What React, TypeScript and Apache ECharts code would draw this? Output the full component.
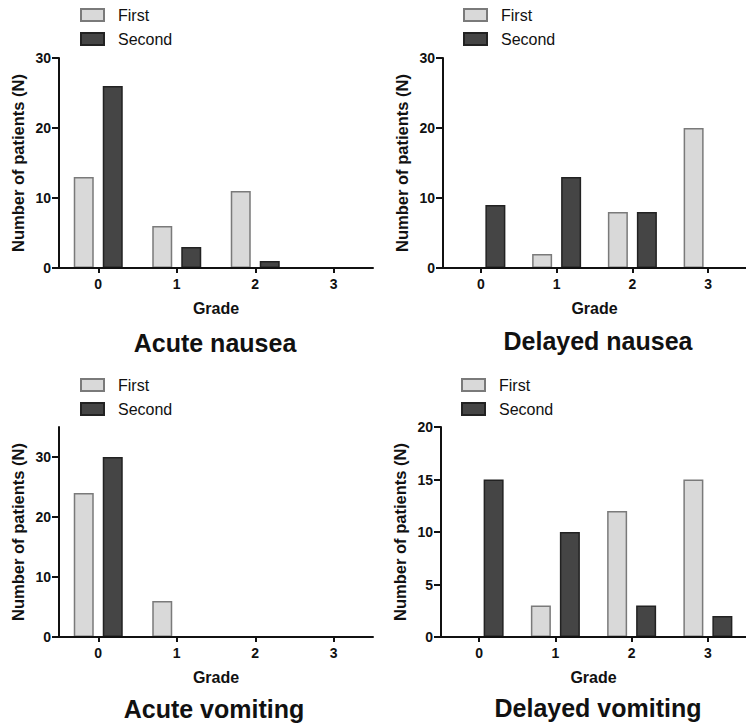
import React, { useEffect, useRef } from "react";
import * as echarts from "echarts";

const grades = ["0", "1", "2", "3"];
const seriesNames = ["First", "Second"];
const panelTitles = ["Acute nausea", "Delayed nausea", "Acute vomiting", "Delayed vomiting"];

const acuteNauseaFirst = [13, 6, 11, 0];
const acuteNauseaSecond = [26, 3, 1, 0];
const delayedNauseaFirst = [0, 2, 8, 20];
const delayedNauseaSecond = [9, 13, 8, 0];
const acuteVomitingFirst = [24, 6, 0, 0];
const acuteVomitingSecond = [30, 0, 0, 0];
const delayedVomitingFirst = [0, 3, 12, 15];
const delayedVomitingSecond = [15, 10, 3, 2];

const yMax = [30, 30, 35, 20];
const yInterval = [10, 10, 10, 5];
const yTicks = [
  [0, 10, 20, 30],
  [0, 10, 20, 30],
  [0, 10, 20, 30],
  [0, 5, 10, 15, 20],
];

const FONT = "Arial, Liberation Sans, sans-serif";
const INK = "#111";

export default function App() {
  const ref = useRef<HTMLDivElement>(null);
  useEffect(() => {
    if (!ref.current) return;
    const chart = echarts.init(ref.current, null, { renderer: "svg" });

    const grids = [
      { left: 59, top: 58, width: 314, height: 210 },
      { left: 443, top: 58, width: 314, height: 210 },
      { left: 59, top: 427, width: 314, height: 210 },
      { left: 441, top: 427, width: 314, height: 210 },
    ];
    const legendPos = [
      { left: 80, top: 7 },
      { left: 463, top: 7 },
      { left: 80, top: 377 },
      { left: 461, top: 377 },
    ];
    const titlePos = [
      { x: 215, y: 343 },
      { x: 598, y: 341 },
      { x: 214, y: 709 },
      { x: 598, y: 708 },
    ];
    const data = [
      [acuteNauseaFirst, acuteNauseaSecond],
      [delayedNauseaFirst, delayedNauseaSecond],
      [acuteVomitingFirst, acuteVomitingSecond],
      [delayedVomitingFirst, delayedVomitingSecond],
    ];
    const styles = [
      { color: "#d9d9d9", borderColor: "#7a7a7a", borderWidth: 1.5 },
      { color: "#454545", borderColor: "#222222", borderWidth: 1.5 },
    ];

    const axisLine = { show: true, lineStyle: { color: INK, width: 2 } };

    const option: any = {
      animation: false,
      backgroundColor: "#ffffff",
      textStyle: { fontFamily: FONT },
      grid: grids.map((g) => ({ ...g, containLabel: false })),
      legend: legendPos.map((p) => ({
        ...p,
        orient: "vertical",
        padding: 0,
        itemWidth: 23,
        itemHeight: 12,
        itemGap: 8,
        selectedMode: false,
        icon: "rect",
        data: seriesNames,
        textStyle: {
          fontSize: 16,
          color: INK,
          fontFamily: FONT,
          padding: [0, 0, 0, 9],
        },
      })),
      xAxis: grids.map((_, i) => ({
        type: "category",
        gridIndex: i,
        data: grades,
        z: 5,
        boundaryGap: true,
        name: "Grade",
        nameLocation: "middle",
        nameGap: 32,
        nameTextStyle: { fontSize: 16, fontWeight: "bold", color: INK, fontFamily: FONT },
        axisLine,
        axisTick: { show: true, alignWithLabel: true, length: 5, lineStyle: { color: INK, width: 2 } },
        axisLabel: { fontSize: 14, fontWeight: "bold", color: INK, margin: 9, fontFamily: FONT },
        splitLine: { show: false },
      })),
      yAxis: grids.map((_, i) => ({
        type: "value",
        gridIndex: i,
        min: 0,
        max: yMax[i],
        interval: yInterval[i],
        z: 5,
        name: "Number of patients (N)",
        nameLocation: "middle",
        nameGap: 33,
        nameTextStyle: { fontSize: 16.5, fontWeight: "bold", color: INK, fontFamily: FONT },
        axisLine,
        axisTick: { show: true, length: 7, customValues: yTicks[i], lineStyle: { color: INK, width: 2 } },
        axisLabel: { fontSize: 14, fontWeight: "bold", color: INK, margin: 8, customValues: yTicks[i], fontFamily: FONT },
        splitLine: { show: false },
      })),
      series: data.flatMap((pair, i) =>
        pair.map((vals, k) => ({
          type: "bar",
          name: seriesNames[k],
          xAxisIndex: i,
          yAxisIndex: i,
          data: vals,
          barWidth: 20,
          barGap: "45%",
          itemStyle: styles[k],
          emphasis: { disabled: true },
        }))
      ),
      graphic: titlePos.map((p, i) => ({
        type: "text",
        x: p.x,
        y: p.y,
        style: {
          text: panelTitles[i],
          font: `bold 25px ${FONT}`,
          fill: INK,
          align: "center",
          verticalAlign: "middle",
        },
      })),
    };

    chart.setOption(option);
    return () => chart.dispose();
  }, []);

  return (
    <div
      ref={ref}
      style={{ position: "absolute", left: 0, top: 0, width: 746, height: 725, background: "#fff" }}
    />
  );
}
